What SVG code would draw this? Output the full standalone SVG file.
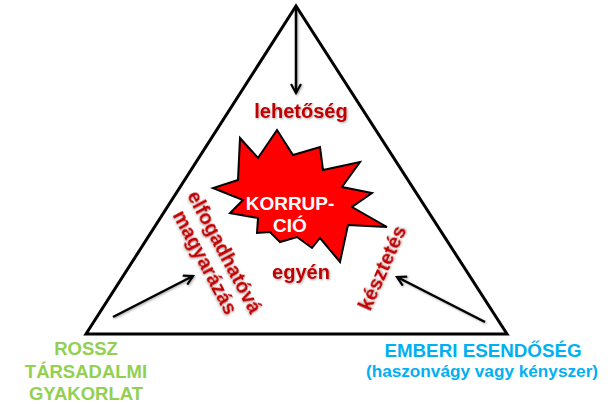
<svg xmlns="http://www.w3.org/2000/svg" width="613" height="404" viewBox="0 0 613 404">
<defs>
<marker id="arr" viewBox="0 0 12 12" refX="10" refY="6" markerWidth="12" markerHeight="12" markerUnits="userSpaceOnUse" orient="auto">
<path d="M1,1 L10,6 L1,11" fill="none" stroke="#000" stroke-width="2.2" stroke-linejoin="miter"/>
</marker>
<filter id="sh" x="-20%" y="-20%" width="140%" height="140%">
<feDropShadow dx="1" dy="1" stdDeviation="0.8" flood-color="#000" flood-opacity="0.35"/>
</filter>
</defs>
<style>
.t{font-family:"Liberation Sans",Arial,sans-serif;font-weight:bold;text-anchor:middle}
.red{fill:#C00000;font-size:20px}
.green{fill:#92D050;font-size:18.5px}
.blue{fill:#00B0F0}
.ar{stroke:#000;stroke-width:2.5;fill:none;marker-end:url(#arr)}
</style>
<g id="triangle">
<polygon points="296,6 86,334 507,334" fill="none" stroke="#000" stroke-width="3" stroke-linejoin="miter"/>
</g>
<g id="connectors" filter="url(#sh)">
<line class="ar" x1="296" y1="8" x2="296" y2="93"/>
<line class="ar" x1="113" y1="317" x2="193" y2="276"/>
<line class="ar" x1="485" y1="322" x2="397" y2="277"/>
</g>
<g id="korrupcio">
<polygon points="240,138 258,158 277,130 293,155 320,147 323,170 360,162 342,187 372,193 352,207 387,227 348,225 340,262 320,238 312,248 297,237 280,242 270,232 257,233 258,218 230,213 243,200 213,188 238,180" fill="#FF0000" stroke="#000" stroke-width="2" stroke-linejoin="miter"/>
<text class="t" x="290" y="210" font-size="19" fill="#fff">KORRUP-</text>
<text class="t" x="290" y="232" font-size="19" fill="#fff">CIÓ</text>
</g>
<g id="lehetoseg" filter="url(#sh)">
<text class="t red" x="301" y="118">lehetőség</text>
</g>
<g id="egyen" filter="url(#sh)">
<text class="t red" x="301" y="279">egyén</text>
</g>
<g id="elfogadhatova" filter="url(#sh)" transform="translate(215,257) rotate(62)">
<text class="t red" x="0" y="-4">elfogadhatóvá</text>
<text class="t red" x="0" y="18">magyarázás</text>
</g>
<g id="kesztetes" filter="url(#sh)" transform="translate(382,268) rotate(-66)">
<text class="t red" x="0" y="7">késztetés</text>
</g>
<g id="rossz">
<text class="t green" x="86" y="355">ROSSZ</text>
<text class="t green" x="86" y="378">TÁRSADALMI</text>
<text class="t green" x="86" y="400">GYAKORLAT</text>
</g>
<g id="emberi">
<text class="t blue" x="483" y="357" font-size="18.8">EMBERI ESENDŐSÉG</text>
<text class="t blue" x="482" y="377" font-size="17.2">(haszonvágy vagy kényszer)</text>
</g>
</svg>
